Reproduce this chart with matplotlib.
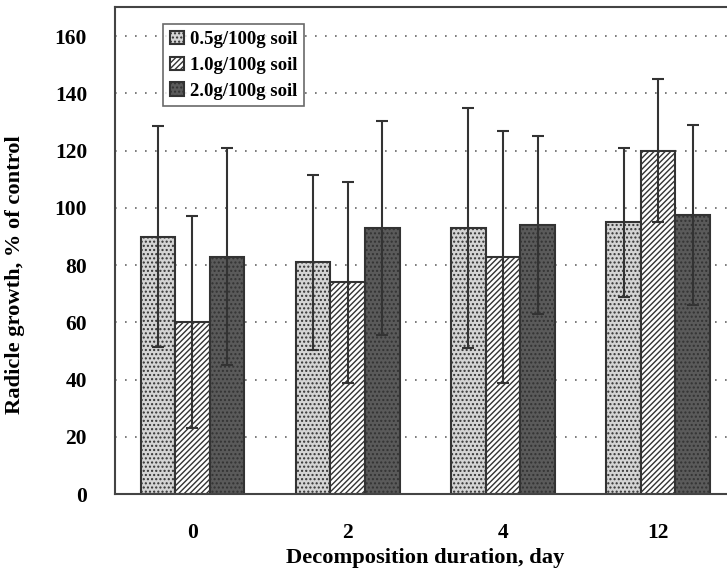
import matplotlib.pyplot as plt
import numpy as np

plt.rcParams['font.family'] = ['Liberation Serif', 'DejaVu Serif']
plt.rcParams['font.weight'] = 'bold'
plt.rcParams['axes.labelweight'] = 'bold'
plt.rcParams['hatch.linewidth'] = 1.0

days = ['0', '2', '4', '12']
labels = ['0.5g/100g soil', '1.0g/100g soil', '2.0g/100g soil']

# mean radicle growth (% of control) and error bar half-widths
low_dose = [90, 81, 93, 95]
low_err = [38.5, 30.5, 42, 26]
mid_dose = [60, 74, 83, 120]
mid_err = [37, 35, 44, 25]
high_dose = [83, 93, 94, 97.5]
high_err = [38, 37.5, 31, 31.5]

fig = plt.figure(figsize=(7.27, 5.74), dpi=100)
ax = fig.add_axes([0.158, 0.139, 0.854, 0.848])

x = np.arange(len(days))
w = 0.223
styles = [
    dict(color='#d4d4d4', hatch='....'),
    dict(color='white', hatch='//////'),
    dict(color='#5a5a5a', hatch='....'),
]
series = [(low_dose, low_err), (mid_dose, mid_err), (high_dose, high_err)]

for i, (vals, errs) in enumerate(series):
    ax.bar(x + (i - 1) * w, vals, w, facecolor=styles[i]['color'],
           edgecolor='#333333', hatch=styles[i]['hatch'], linewidth=1.5,
           label=labels[i], zorder=2)
    ax.errorbar(x + (i - 1) * w, vals, yerr=errs, fmt='none', ecolor='#333333',
                elinewidth=1.5, capsize=4, capthick=1.5, zorder=3)

ax.set_xlim(-0.5, 3.5)
ax.set_ylim(0, 170)
ax.set_yticks(range(0, 161, 20))
ax.set_xticks(x)
ax.set_xticklabels(days)
ax.tick_params(axis='both', length=0, labelsize=15.5)
ax.tick_params(axis='y', pad=20)
ax.tick_params(axis='x', pad=21)
ax.yaxis.grid(True, linestyle=(0, (1, 5)), color='#666666', linewidth=1.2, zorder=0)
ax.set_axisbelow(True)
for s in ax.spines.values():
    s.set_color('#444444')
    s.set_linewidth(1.5)

ax.set_xlabel('Decomposition duration, day', fontsize=16.2, labelpad=3)
ax.set_ylabel('Radicle growth, % of control', fontsize=16.2)
ax.yaxis.set_label_coords(-0.145, 0.452)

leg = ax.legend(loc='upper left', bbox_to_anchor=(0.063, 0.985), fontsize=13.5,
                frameon=True, fancybox=False, edgecolor='#444444',
                handlelength=0.75, handleheight=0.75, handletextpad=0.3,
                borderpad=0.35, labelspacing=0.45)
leg.get_frame().set_linewidth(1.2)

plt.savefig('out.png')
